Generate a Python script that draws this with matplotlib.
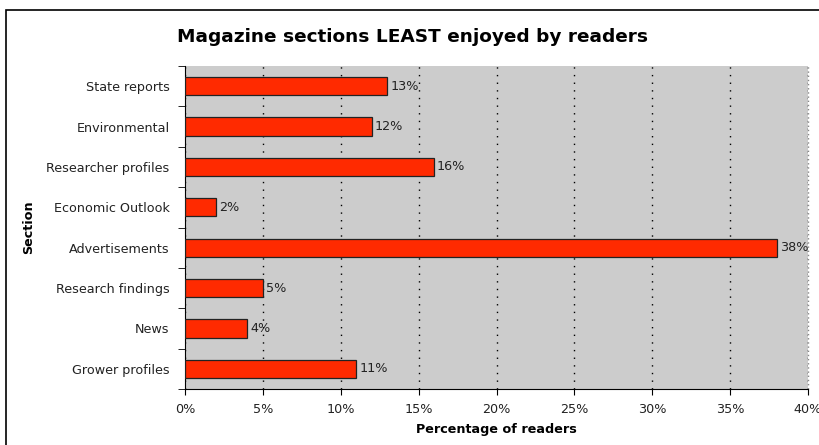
import matplotlib
matplotlib.use("Agg")
import matplotlib.pyplot as plt
import numpy as np
from matplotlib.patches import Rectangle

# bottom to top
sections = ["Grower profiles", "News", "Research findings", "Advertisements",
            "Economic Outlook", "Researcher profiles", "Environmental", "State reports"]
percent = [11, 4, 5, 38, 2, 16, 12, 13]
xticks = [0, 5, 10, 15, 20, 25, 30, 35, 40]

plt.rcParams['font.family'] = ['DejaVu Sans']
fs = 9.2

fig = plt.figure(figsize=(8.2, 4.45), dpi=100)
fig.patches.append(Rectangle((6 / 820, -0.1), 1.2, 1 - 10 / 445 + 0.1, transform=fig.transFigure,
                             fill=False, edgecolor='black', linewidth=1.2))
ax = fig.add_axes([0.2256, 0.1258, 0.7598, 0.7259])
ax.set_facecolor('#cccccc')

y = np.arange(len(sections))
ax.barh(y, percent, height=0.45, color='#ff2a00', edgecolor='#222222', linewidth=0.9, zorder=3)
for yi, v in zip(y, percent):
    ax.annotate(f"{v}%", (v, yi), xytext=(2, 0), textcoords='offset points',
                va='center', ha='left', fontsize=fs, color='#222222', zorder=4)

ax.set_xlim(0, 40)
ax.set_ylim(-0.5, len(sections) - 0.5)
ax.set_xticks(xticks)
ax.set_xticklabels([f"{t}%" for t in xticks], fontsize=fs, color='#222222')
ax.set_yticks(y)
ax.set_yticklabels(sections, fontsize=fs, color='#222222')
ax.set_yticks(np.arange(-0.5, len(sections)), minor=True)
ax.tick_params(axis='y', which='major', length=0, pad=11)
ax.tick_params(axis='y', which='minor', length=5, direction='out')
ax.tick_params(axis='x', length=4, direction='out', pad=6)
ax.xaxis.grid(True, linestyle=(0, (1, 4.5)), color='black', linewidth=1, zorder=1)

for s in ['top', 'right']:
    ax.spines[s].set_visible(False)
ax.spines['left'].set_color('black')
ax.spines['bottom'].set_color('black')
ax.plot([40, 40], [-0.5, len(sections) - 0.5], color='#888888', linestyle=(0, (1, 2)), linewidth=1,
        clip_on=False, zorder=2)

ax.set_xlabel("Percentage of readers", fontsize=fs, fontweight='bold', labelpad=5)
ax.set_ylabel("Section", fontsize=fs, fontweight='bold', labelpad=8)
fig.text(0.503, 0.917, "Magazine sections LEAST enjoyed by readers", ha='center', va='center',
         fontsize=13.3, fontweight='bold')

fig.savefig("out.png", dpi=100)
